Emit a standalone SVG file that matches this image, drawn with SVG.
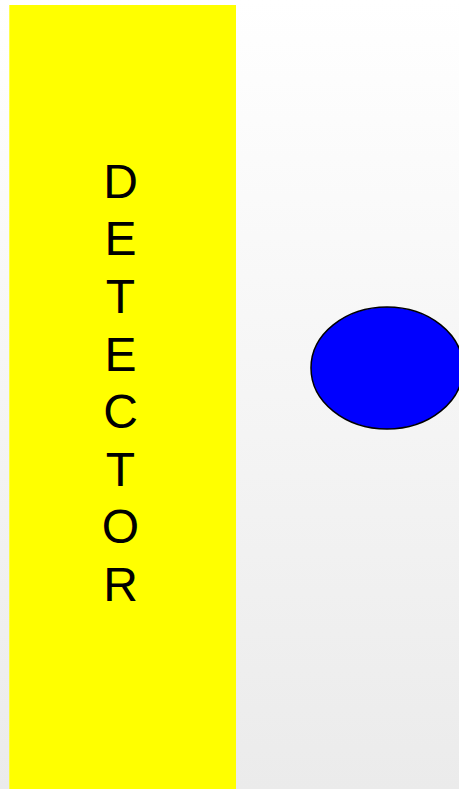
<svg xmlns="http://www.w3.org/2000/svg" width="459" height="789" viewBox="0 0 459 789">
<defs>
<linearGradient id="bg" x1="0" y1="0" x2="0" y2="1">
<stop offset="0" stop-color="#ffffff"/>
<stop offset="1" stop-color="#ebebeb"/>
</linearGradient>
</defs>
<style>
.lbl{font-family:"Liberation Sans",Arial,sans-serif;font-size:48px;fill:#000;text-anchor:middle}
</style>
<rect x="0" y="0" width="459" height="789" fill="url(#bg)"/>
<g id="detector">
<rect x="9.3" y="5" width="226.7" height="784" fill="#ffff00"/>
<text class="lbl" x="120.5" y="197.7">D</text>
<text class="lbl" x="120.5" y="255.3">E</text>
<text class="lbl" x="120.5" y="312.9">T</text>
<text class="lbl" x="120.5" y="370.5">E</text>
<text class="lbl" x="120.5" y="428.1">C</text>
<text class="lbl" x="120.5" y="485.7">T</text>
<text class="lbl" x="120.5" y="543.3">O</text>
<text class="lbl" x="120.5" y="600.9">R</text>
</g>
<g id="particle">
<ellipse cx="387" cy="368" rx="76" ry="61" fill="#0000ff" stroke="#000" stroke-width="1.5"/>
</g>
</svg>
